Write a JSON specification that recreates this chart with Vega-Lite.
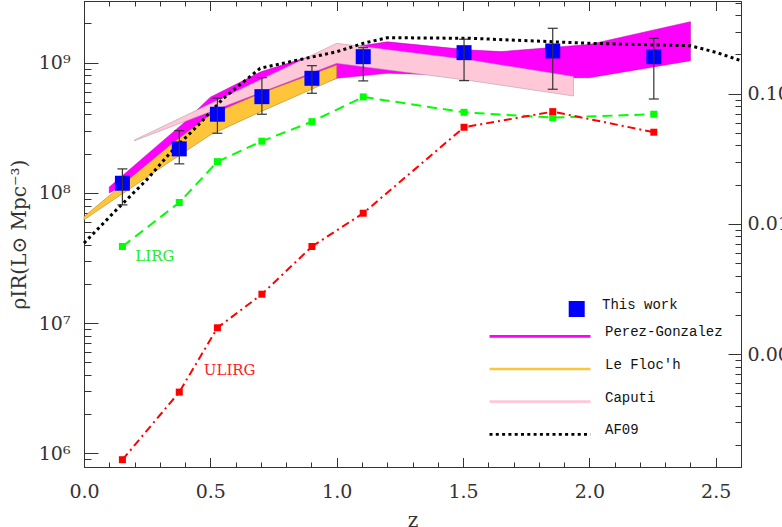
{
  "$schema": "https://vega.github.io/schema/vega-lite/v6.json",
  "width": 657,
  "height": 466,
  "autosize": {"type": "none"},
  "padding": {"left": 84, "top": 1, "right": 41, "bottom": 60},
  "datasets": {
    "bins": [
      {"z": 0.152, "rho": 1.186e8, "lo": 8.09e7, "hi": 1.528e8, "lirg": 3.873e7, "ulirg": 8.93e5, "series": "This work"},
      {"z": 0.377, "rho": 2.178e8, "lo": 1.671e8, "hi": 3.006e8, "lirg": 8.433e7, "ulirg": 2.951e6, "series": "This work"},
      {"z": 0.528, "rho": 4.018e8, "lo": 2.871e8, "hi": 5.333e8, "lirg": 1.738e8, "ulirg": 9.204e6, "series": "This work"},
      {"z": 0.704, "rho": 5.483e8, "lo": 4.018e8, "hi": 7.674e8, "lirg": 2.495e8, "ulirg": 1.667e7, "series": "This work"},
      {"z": 0.902, "rho": 7.586e8, "lo": 5.821e8, "hi": 9.484e8, "lirg": 3.524e8, "ulirg": 3.873e7, "series": "This work"},
      {"z": 1.105, "rho": 1.112e9, "lo": 7.244e8, "hi": 1.303e9, "lirg": 5.458e8, "ulirg": 6.982e7, "series": "This work"},
      {"z": 1.504, "rho": 1.194e9, "lo": 7.278e8, "hi": 1.514e9, "lirg": 4.159e8, "ulirg": 3.192e8, "series": "This work"},
      {"z": 1.855, "rho": 1.23e9, "lo": 6.252e8, "hi": 1.837e9, "lirg": 3.784e8, "ulirg": 4.207e8, "series": "This work"},
      {"z": 2.255, "rho": 1.112e9, "lo": 5.26e8, "hi": 1.538e9, "lirg": 4.018e8, "ulirg": 2.924e8, "series": "This work"}
    ],
    "bands": [
      {"series": "Perez-Gonzalez", "z": 0.10, "lo": 1.0e8, "hi": 1.109e8},
      {"series": "Perez-Gonzalez", "z": 0.39, "lo": 2.0e8, "hi": 3.388e8},
      {"series": "Perez-Gonzalez", "z": 0.50, "lo": 3.55e8, "hi": 5.433e8},
      {"series": "Perez-Gonzalez", "z": 0.70, "lo": 5.25e8, "hi": 8.51e8},
      {"series": "Perez-Gonzalez", "z": 0.87, "lo": 6.31e8, "hi": 1.081e9},
      {"series": "Perez-Gonzalez", "z": 1.00, "lo": 7.59e8, "hi": 1.2e9},
      {"series": "Perez-Gonzalez", "z": 1.09, "lo": 7.9e8, "hi": 1.343e9},
      {"series": "Perez-Gonzalez", "z": 1.20, "lo": 8.3e8, "hi": 1.445e9},
      {"series": "Perez-Gonzalez", "z": 1.53, "lo": 7.94e8, "hi": 1.25e9},
      {"series": "Perez-Gonzalez", "z": 1.65, "lo": 7.67e8, "hi": 1.216e9},
      {"series": "Perez-Gonzalez", "z": 2.00, "lo": 7.67e8, "hi": 1.38e9},
      {"series": "Perez-Gonzalez", "z": 2.40, "lo": 1.035e9, "hi": 2.065e9},
      {"series": "Caputi", "z": 0.20, "lo": 2.512e8, "hi": 2.553e8},
      {"series": "Caputi", "z": 1.00, "lo": 9.886e8, "hi": 1.409e9},
      {"series": "Caputi", "z": 1.53, "lo": 7.278e8, "hi": 1.047e9},
      {"series": "Caputi", "z": 1.937, "lo": 5.546e8, "hi": 7.816e8},
      {"series": "Le Floc'h", "z": 0.00, "lo": 6.209e7, "hi": 6.577e7},
      {"series": "Le Floc'h", "z": 0.35, "lo": 1.79e8, "hi": 2.404e8},
      {"series": "Le Floc'h", "z": 0.50, "lo": 2.786e8, "hi": 3.981e8},
      {"series": "Le Floc'h", "z": 0.70, "lo": 4.207e8, "hi": 5.821e8},
      {"series": "Le Floc'h", "z": 1.00, "lo": 7.586e8, "hi": 9.594e8}
    ],
    "af09": [
      {"series": "AF09", "z": 0.0, "rho": 4.11e7},
      {"series": "AF09", "z": 0.128, "rho": 7.40e7},
      {"series": "AF09", "z": 0.248, "rho": 1.259e8},
      {"series": "AF09", "z": 0.34, "rho": 2.018e8},
      {"series": "AF09", "z": 0.446, "rho": 3.228e8},
      {"series": "AF09", "z": 0.552, "rho": 5.333e8},
      {"series": "AF09", "z": 0.697, "rho": 9.057e8},
      {"series": "AF09", "z": 0.87, "rho": 1.072e9},
      {"series": "AF09", "z": 1.0, "rho": 1.213e9},
      {"series": "AF09", "z": 1.106, "rho": 1.409e9},
      {"series": "AF09", "z": 1.2, "rho": 1.556e9},
      {"series": "AF09", "z": 1.53, "rho": 1.538e9},
      {"series": "AF09", "z": 2.0, "rho": 1.409e9},
      {"series": "AF09", "z": 2.4, "rho": 1.349e9},
      {"series": "AF09", "z": 2.5, "rho": 1.202e9},
      {"series": "AF09", "z": 2.6, "rho": 1.035e9}
    ],
    "notes": [
      {"z": 0.203, "rho": 3.29e7, "label": "LIRG"},
      {"z": 0.474, "rho": 4.39e6, "label": "ULIRG"}
    ]
  },
  "resolve": {"axis": {"x": "independent", "y": "independent"}},
  "layer": [
    {
      "data": {"name": "bands"},
      "transform": [{"filter": "datum.series === 'Perez-Gonzalez'"}],
      "mark": {"type": "area", "color": "#ff00ff", "stroke": "#b000b0", "strokeWidth": 0.5, "opacity": 1},
      "encoding": {
        "x": {"field": "z", "type": "quantitative", "scale": {"domain": [0, 2.6], "nice": false, "zero": false},
          "axis": {"orient": "bottom", "title": "z", "titleY": 59.5, "titleBaseline": "alphabetic",
            "values": [0, 0.5, 1, 1.5, 2, 2.5], "format": ".1f",
            "tickSize": -9.5, "labelPadding": 24.5}},
        "y": {"field": "lo", "type": "quantitative", "stack": null, "scale": {"type": "log", "domain": [785000, 2976000000], "nice": false},
          "axis": {"orient": "left", "title": "ρIR(L⊙ Mpc⁻³)", "titleX": -65, "titleBaseline": "middle",
            "values": [1000000, 10000000, 100000000, 1000000000],
            "labelExpr": "datum.value == 1000000 ? '10⁶' : datum.value == 10000000 ? '10⁷' : datum.value == 100000000 ? '10⁸' : '10⁹'",
            "tickSize": -14, "labelPadding": 28}},
        "y2": {"field": "hi"}
      }
    },
    {
      "data": {"name": "bands"},
      "transform": [{"filter": "datum.series === 'Caputi'"}],
      "mark": {"type": "area", "color": "#ffc8d8", "stroke": "#a89098", "strokeWidth": 0.5, "opacity": 1},
      "encoding": {
        "x": {"field": "z", "type": "quantitative", "scale": {"domain": [0, 2.6], "nice": false, "zero": false},
          "axis": {"orient": "top", "title": null, "labels": false,
            "values": [0, 0.5, 1, 1.5, 2, 2.5], "tickSize": -9.5}},
        "y": {"field": "lo", "type": "quantitative", "stack": null, "scale": {"type": "log", "domain": [785000, 2976000000], "nice": false},
          "axis": {"orient": "right", "title": null,
            "values": [5781000, 57810000, 578100000],
            "labelExpr": "format(datum.value / 5781000000, '.2f')",
            "tickSize": -13, "labelPadding": 19}},
        "y2": {"field": "hi"}
      }
    },
    {
      "data": {"name": "bands"},
      "transform": [{"filter": "datum.series === \"Le Floc'h\""}],
      "mark": {"type": "area", "color": "#ffc53a", "stroke": "#a07a28", "strokeWidth": 0.5, "opacity": 1},
      "encoding": {
        "x": {"field": "z", "type": "quantitative", "scale": {"domain": [0, 2.6], "nice": false, "zero": false},
          "axis": {"orient": "bottom", "title": null, "labels": false, "domain": false,
            "values": [0.1, 0.2, 0.3, 0.4, 0.6, 0.7, 0.8, 0.9, 1.1, 1.2, 1.3, 1.4, 1.6, 1.7, 1.8, 1.9, 2.1, 2.2, 2.3, 2.4],
            "tickSize": -5}},
        "y": {"field": "lo", "type": "quantitative", "stack": null, "scale": {"type": "log", "domain": [785000, 2976000000], "nice": false},
          "axis": {"orient": "left", "title": null, "labels": false, "domain": false,
            "values": [900000, 2000000, 3000000, 4000000, 5000000, 6000000, 7000000, 8000000, 9000000, 20000000, 30000000, 40000000, 50000000, 60000000, 70000000, 80000000, 90000000, 200000000, 300000000, 400000000, 500000000, 600000000, 700000000, 800000000, 900000000, 2000000000],
            "tickSize": -7}},
        "y2": {"field": "hi"}
      }
    },
    {
      "data": {"name": "af09"},
      "mark": {"type": "line", "strokeWidth": 3},
      "encoding": {
        "x": {"field": "z", "type": "quantitative", "scale": {"domain": [0, 2.6], "nice": false, "zero": false},
          "axis": {"orient": "top", "title": null, "labels": false, "domain": false,
            "values": [0.1, 0.2, 0.3, 0.4, 0.6, 0.7, 0.8, 0.9, 1.1, 1.2, 1.3, 1.4, 1.6, 1.7, 1.8, 1.9, 2.1, 2.2, 2.3, 2.4],
            "tickSize": -5}},
        "y": {"field": "rho", "type": "quantitative", "scale": {"type": "log", "domain": [785000, 2976000000], "nice": false},
          "axis": {"orient": "right", "title": null, "labels": false, "domain": false,
            "values": [1156200, 1734300, 2312400, 2890500, 3468600, 4046700, 4624800, 5202900, 11562000, 17343000, 23124000, 28905000, 34686000, 40467000, 46248000, 52029000, 115620000, 173430000, 231240000, 289050000, 346860000, 404670000, 462480000, 520290000, 1156200000, 1734300000, 2312400000, 2890500000],
            "tickSize": -6}},
        "color": {"field": "series", "type": "nominal",
          "scale": {"domain": ["Perez-Gonzalez", "Le Floc'h", "Caputi", "AF09"], "range": ["#ff00ff", "#ffc53a", "#ffc8d8", "#000000"]},
          "legend": {"orient": "none", "legendX": 404, "legendY": 325.3, "title": null, "padding": 0,
            "symbolType": "stroke", "symbolSize": 10201, "symbolStrokeWidth": 2.7, "clipHeight": 20, "rowPadding": 11.7,
            "labelOffset": 13, "labelFont": "Liberation Mono", "labelFontSize": 14, "labelColor": "#111111", "labelBaseline": "alphabetic"}},
        "strokeDash": {"field": "series", "type": "nominal",
          "scale": {"domain": ["Perez-Gonzalez", "Le Floc'h", "Caputi", "AF09"], "range": [[1, 0], [1, 0], [1, 0], [3, 3.3]]},
          "legend": {"orient": "none", "legendX": 404, "legendY": 325.3, "title": null, "padding": 0,
            "symbolType": "stroke", "symbolSize": 10201, "symbolStrokeWidth": 2.7, "clipHeight": 20, "rowPadding": 11.7,
            "labelOffset": 13, "labelFont": "Liberation Mono", "labelFontSize": 14, "labelColor": "#111111", "labelBaseline": "alphabetic"}}
      }
    },
    {
      "data": {"name": "bins"},
      "mark": {"type": "line", "color": "#00ff00", "strokeDash": [10, 6], "strokeWidth": 2},
      "encoding": {
        "x": {"field": "z", "type": "quantitative", "axis": null},
        "y": {"field": "lirg", "type": "quantitative", "axis": null}
      }
    },
    {
      "data": {"name": "bins"},
      "mark": {"type": "point", "shape": "square", "filled": true, "size": 49, "color": "#00ff00", "opacity": 1},
      "encoding": {
        "x": {"field": "z", "type": "quantitative", "axis": null},
        "y": {"field": "lirg", "type": "quantitative", "axis": null}
      }
    },
    {
      "data": {"name": "bins"},
      "mark": {"type": "line", "color": "#ff0000", "strokeDash": [8, 4, 2, 4], "strokeWidth": 2},
      "encoding": {
        "x": {"field": "z", "type": "quantitative", "axis": null},
        "y": {"field": "ulirg", "type": "quantitative", "axis": null}
      }
    },
    {
      "data": {"name": "bins"},
      "mark": {"type": "point", "shape": "square", "filled": true, "size": 49, "color": "#ff0000", "opacity": 1},
      "encoding": {
        "x": {"field": "z", "type": "quantitative", "axis": null},
        "y": {"field": "ulirg", "type": "quantitative", "axis": null}
      }
    },
    {
      "data": {"name": "bins"},
      "mark": {"type": "point", "filled": true, "size": 225, "color": "#0000ff", "opacity": 1},
      "encoding": {
        "x": {"field": "z", "type": "quantitative", "axis": null},
        "y": {"field": "rho", "type": "quantitative", "axis": null},
        "shape": {"field": "series", "type": "nominal",
          "scale": {"domain": ["This work"], "range": ["square"]},
          "legend": {"orient": "none", "legendX": 484.7, "legendY": 300, "title": null, "padding": 0,
            "symbolSize": 256, "symbolFillColor": "#0000ff", "symbolStrokeWidth": 0, "symbolOpacity": 1,
            "labelOffset": 17.3, "labelFont": "Liberation Mono", "labelFontSize": 14, "labelColor": "#111111", "labelBaseline": "alphabetic"}}
      }
    },
    {
      "data": {"name": "bins"},
      "mark": {"type": "rule", "color": "#333333", "strokeWidth": 1.2},
      "encoding": {
        "x": {"field": "z", "type": "quantitative", "axis": null},
        "y": {"field": "lo", "type": "quantitative", "axis": null},
        "y2": {"field": "hi"}
      }
    },
    {
      "data": {"name": "bins"},
      "mark": {"type": "tick", "orient": "horizontal", "size": 10, "thickness": 1.2, "color": "#333333", "opacity": 1},
      "encoding": {
        "x": {"field": "z", "type": "quantitative", "axis": null},
        "y": {"field": "lo", "type": "quantitative", "axis": null}
      }
    },
    {
      "data": {"name": "bins"},
      "mark": {"type": "tick", "orient": "horizontal", "size": 10, "thickness": 1.2, "color": "#333333", "opacity": 1},
      "encoding": {
        "x": {"field": "z", "type": "quantitative", "axis": null},
        "y": {"field": "hi", "type": "quantitative", "axis": null}
      }
    },
    {
      "data": {"name": "notes"},
      "transform": [{"filter": "datum.label === 'LIRG'"}],
      "mark": {"type": "text", "align": "left", "baseline": "middle", "font": "DejaVu Serif", "fontSize": 15, "color": "#22ee22"},
      "encoding": {
        "x": {"field": "z", "type": "quantitative", "axis": null},
        "y": {"field": "rho", "type": "quantitative", "axis": null},
        "text": {"field": "label"}
      }
    },
    {
      "data": {"name": "notes"},
      "transform": [{"filter": "datum.label === 'ULIRG'"}],
      "mark": {"type": "text", "align": "left", "baseline": "middle", "font": "DejaVu Serif", "fontSize": 15, "color": "#ff2020"},
      "encoding": {
        "x": {"field": "z", "type": "quantitative", "axis": null},
        "y": {"field": "rho", "type": "quantitative", "axis": null},
        "text": {"field": "label"}
      }
    }
  ],
  "config": {
    "view": {"stroke": "#333333", "strokeWidth": 1},
    "axis": {
      "grid": false,
      "labelOverlap": false,
      "labelFlush": false,
      "labelFont": "DejaVu Serif",
      "labelFontSize": 19,
      "labelColor": "#333333",
      "titleFont": "DejaVu Serif",
      "titleFontWeight": "normal",
      "titleFontSize": 20,
      "titleColor": "#333333",
      "domainColor": "#333333",
      "tickColor": "#333333",
      "tickWidth": 1
    }
  }
}
